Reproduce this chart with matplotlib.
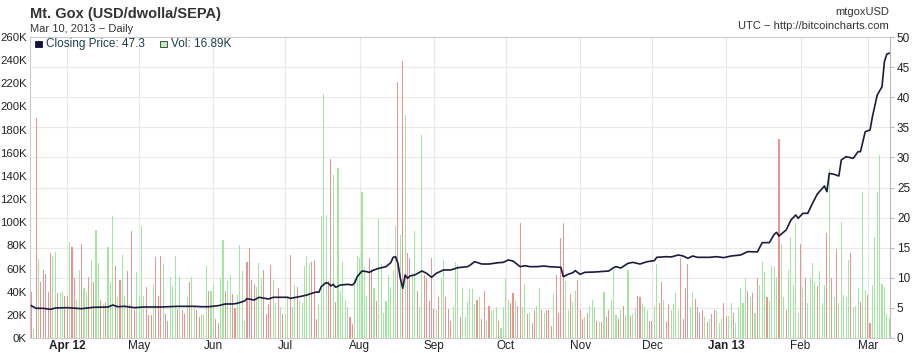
import numpy as np
import pandas as pd
import matplotlib
matplotlib.use("Agg")
import matplotlib.pyplot as plt
from matplotlib.patches import Rectangle

plt.rcParams["font.family"] = ["Liberation Sans", "DejaVu Sans"]

# daily data, first bar on this date
start_date = "2012-03-17"

# daily volume in thousands of BTC
volume_k = [
    40, 8,
    190, 68, 48, 59, 55, 40, 73, 71, 74, 39, 39, 40, 36, 36, 83, 79, 52, 33, 59, 81,
    43, 40, 53, 67, 48, 93, 65, 33, 29, 31, 79, 48, 105, 62, 35, 50, 72, 36, 58, 29,
    92, 24, 57, 36, 97, 36, 44, 20, 20, 47, 70, 36, 71, 64, 21, 15, 53, 45, 71, 25,
    53, 24, 21, 35, 48, 53, 27, 24, 18, 21,
    20,
    62, 41, 41, 46, 16, 13, 52, 85, 41, 49, 54, 38, 26, 37, 80, 58, 15, 66, 78, 50,
    47, 44, 65, 52, 59, 21, 29, 63, 50, 30, 43, 27, 21, 21, 35, 72, 27, 46, 44, 33,
    30, 62, 71, 65, 66, 67, 16, 29, 105, 211, 106, 49, 155, 141, 31, 147, 41, 66, 33, 27,
    18, 12, 52, 71, 69,
    126, 61, 36, 69, 60,
    43, 32, 103, 64, 22, 32, 54, 44, 59, 97, 221, 89, 239, 193, 73, 69, 56, 92, 41, 27,
    175, 54, 52, 32, 69, 25, 24, 35, 52, 67, 35, 25, 15, 27, 66, 63, 18, 43, 18, 31,
    42, 42, 29, 33, 35, 16, 41, 15, 28, 24, 24, 27, 15, 9, 27, 52, 33, 30, 39, 32,
    28, 99, 27, 47, 21, 22, 13, 24, 28, 43, 24, 22,
    24, 24, 10, 38, 54, 22, 86, 99, 49, 24, 38, 31, 41, 50, 24, 16, 18, 22, 28, 33,
    27, 15, 14, 14, 40, 18, 24, 33, 59, 20, 16, 24, 28, 20, 59, 19, 21, 26, 36, 35,
    29, 27, 24, 15, 15, 28, 64, 30, 48, 33, 14, 29, 24, 29, 39, 24, 69, 16, 43, 64,
    27, 40, 34, 27, 22, 24, 18, 14, 16, 21, 24, 24,
    13, 16, 30, 19, 19, 30, 22, 13, 27, 43, 30, 52, 41, 35, 39, 22, 52, 46, 66, 57,
    35, 32, 62, 62, 53, 172, 81, 35, 24, 59, 87, 46, 99, 22, 81, 44, 52, 30, 52, 65,
    48, 45, 58, 30, 46, 91, 146, 52, 35, 77, 30, 100, 37, 35, 67, 73, 27, 28, 43, 31,
    126, 41, 37, 13, 46, 87, 126, 158, 47, 44, 21,
    16.89,
]

# day move (u = closed up, d = closed down), one per day
day_move = """
d u
d u d d d d d u u d  u u d d u d d u u d  u u d u d u u d u d  u u u d u d u u d u
d d u u u u d d d u  d d d u d d u u u d  u d d u d u u d d u
u
u d u u d d u u d u  u d d u u u u d d d  d u u u d d d d u u  d u d u u d u u d u
u u u u d d d u u u  u d d u d u u u u u  d d u u u
u u u d d
u d u u u u u u u u  d u d u d d u u d u  u d d d d d u d u u  d d d u u u d u u u
u u u d u d d u d u  u u d u u u u d d u  d d u u d u d d u u  d u
d d d u d d d d u u  d u u d d d u d u u  u d u d u d d u u u  d u d u u d u u d d
u u u d d u u d d u  d d u u u u d d d d  u u d d d d u d u d  d u
u u d d u u d u u u  u u d u d u d u u u  d u u u u d u u d u  u u u u d u d u u u
u d u u u d u d u d  u u u u u d u u u d  u u d d u u u u u u  u
u
""".split()

# closing price (USD) read at these day offsets from start_date
price_day = [
    0, 2, 5, 8, 10, 15, 21, 26, 32, 34, 36, 39, 43, 47, 54, 61, 68, 71, 74, 78,
    81, 84, 86, 89, 90, 93, 95, 99, 101, 107, 108, 112, 115, 117, 119, 120, 121, 123, 124, 125,
    126, 127, 129, 132, 134, 135, 136, 138, 140, 141, 143, 145, 148, 150, 151, 152, 153, 154, 155, 156,
    157, 158, 160, 163, 165, 167, 169, 172, 175, 178, 182, 183, 185, 188, 191, 195, 197, 199, 201, 204,
    206, 208, 211, 214, 216, 221, 222, 224, 226, 227, 229, 231, 235, 241, 243, 244, 246, 249, 251, 254,
    257, 260, 261, 265, 267, 270, 272, 274, 276, 278, 283, 286, 289, 292, 296, 299, 303, 305, 308, 310,
    311, 312, 315, 317, 319, 320, 322, 324, 326, 328, 331, 332, 333, 335, 337, 338, 340, 343, 345, 346,
    348, 350, 351, 353, 355, 356, 357, 358,
]
price_close = [
    5.37, 4.93, 4.93, 4.76, 4.98, 5.04, 4.87, 5.10, 5.15, 5.48, 5.20, 5.26, 5.04, 5.15, 5.15, 5.26, 5.26, 5.20, 5.20, 5.37,
    5.65, 5.65, 5.76, 6.15, 6.53, 6.31, 6.76, 6.48, 6.76, 6.76, 6.59, 6.87, 7.14, 7.42, 7.64, 7.59, 8.53, 9.19, 9.08, 8.64,
    8.91, 8.42, 8.80, 8.91, 8.80, 9.19, 10.20, 11.13, 11.02, 10.90, 11.30, 11.57, 11.85, 12.51, 13.40, 13.51, 12.40, 9.91, 8.25, 10.47,
    9.91, 10.30, 10.47, 11.13, 10.74, 10.08, 10.74, 11.30, 11.30, 11.68, 11.85, 12.07, 12.68, 12.29, 12.29, 12.51, 12.57, 12.96, 12.79, 11.85,
    12.00, 11.85, 11.85, 11.96, 11.85, 11.74, 10.19, 10.58, 10.85, 11.19, 10.58, 10.91, 10.96, 11.13, 11.68, 11.85, 11.63, 12.40, 12.57, 12.29,
    12.68, 12.85, 13.40, 13.51, 13.46, 13.79, 13.62, 13.24, 13.62, 13.40, 13.40, 13.51, 13.35, 13.62, 13.79, 14.35, 14.30, 15.84, 15.84, 17.22,
    17.55, 16.94, 17.94, 19.60, 20.43, 19.88, 20.71, 20.71, 22.37, 23.92, 25.25, 24.31, 27.35, 27.19, 26.91, 29.57, 30.12, 29.85, 30.95, 30.95,
    34.27, 34.55, 36.76, 40.36, 41.74, 45.89, 47.16, 47.30,
]

month_labels = ["Apr 12", "May", "Jun", "Jul", "Aug", "Sep", "Oct", "Nov", "Dec", "Jan 13", "Feb", "Mar"]
year_labels = ["Apr 12", "Jan 13"]

dates = pd.date_range(start_date, periods=len(volume_k), freq="D")
price_dates = pd.Timestamp(start_date) + pd.to_timedelta(price_day, unit="D")
month_starts = pd.date_range("2012-04-01", periods=len(month_labels), freq="MS")

W, H = 918, 353
L, R, T, B = 30, 890, 37, 338
grid_c = "#e9e9e9"
text_c = "#222222"

fig = plt.figure(figsize=(W / 100, H / 100), dpi=100)
ax = fig.add_axes([L / W, 1 - B / H, (R - L) / W, (B - T) / H])

bar_colors = ["#a2e6a2" if m == "u" else "#e89494" for m in day_move]
ax.bar(dates, volume_k, width=0.45, color=bar_colors, linewidth=0, zorder=2)

ax.set_xlim(dates[0] - pd.Timedelta(hours=13), dates[-1] + pd.Timedelta(hours=8))
ax.set_ylim(0, 260)
ax.set_yticks(np.arange(0, 261, 20))
ax.set_yticklabels([f"{v}K" for v in range(0, 261, 20)])
# horizontal grid follows the price axis (every 5 USD)
ax.set_yticks(np.arange(0, 261, 26), minor=True)
ax.grid(which="minor", axis="y", color=grid_c, lw=0.8)
ax.set_xticks(month_starts)
ax.set_xticklabels(month_labels)
ax.grid(which="major", axis="x", color=grid_c, lw=0.8)
ax.set_axisbelow(True)
ax.tick_params(axis="y", which="both", length=0, labelsize=8.2, pad=2.5, labelcolor=text_c)
ax.tick_params(axis="x", length=0, labelsize=8.5, pad=1.5, labelcolor=text_c)
for lab in ax.get_xticklabels():
    if lab.get_text() in year_labels:
        lab.set_fontweight("bold")
for side in ["left", "bottom", "top"]:
    ax.spines[side].set_color("#cccccc")
    ax.spines[side].set_linewidth(0.8)
ax.spines["right"].set_visible(False)

ax2 = ax.twinx()
ax2.plot(price_dates, price_close, color="#1b1b3d", lw=1.2, zorder=3)
ax2.set_ylim(0, 50)
ax2.set_yticks(range(0, 51, 5))
ax2.tick_params(axis="y", length=3, color="#bbbbbb", labelsize=8.5, pad=2, labelcolor=text_c)
for side in ["left", "bottom", "top"]:
    ax2.spines[side].set_visible(False)
ax2.spines["right"].set_color("#bbbbbb")
ax2.spines["right"].set_linewidth(0.8)


def fx(x):
    return x / W


def fy(y):
    return 1 - y / H


# titles
fig.text(fx(30), fy(18), "Mt. Gox (USD/dwolla/SEPA)", fontsize=10.5, fontweight="bold",
         color="#333333", va="baseline")
fig.text(fx(30), fy(32), "Mar 10, 2013 \u2212 Daily", fontsize=8, color="#333333", va="baseline")
fig.text(fx(889), fy(15), "mtgoxUSD", fontsize=8, color="#333333", ha="right", va="baseline")
fig.text(fx(889), fy(29), "UTC \u2212 http://bitcoincharts.com", fontsize=8, color="#333333",
         ha="right", va="baseline")

# legend row
fig.add_artist(Rectangle((fx(35), fy(47)), 7 / W, 6 / H, transform=fig.transFigure,
                         facecolor="#10103a", edgecolor="#10103a", lw=0.6))
fig.text(fx(46), fy(44), "Closing Price: 47.3", fontsize=8.5, color="#1e3d4f", va="center")
fig.add_artist(Rectangle((fx(160), fy(47)), 7 / W, 6 / H, transform=fig.transFigure,
                         facecolor="#b8f0b8", edgecolor="#333333", lw=0.6))
fig.text(fx(171), fy(44), "Vol: 16.89K", fontsize=8.5, color="#1e3d4f", va="center")

fig.savefig("out.png", dpi=100)
